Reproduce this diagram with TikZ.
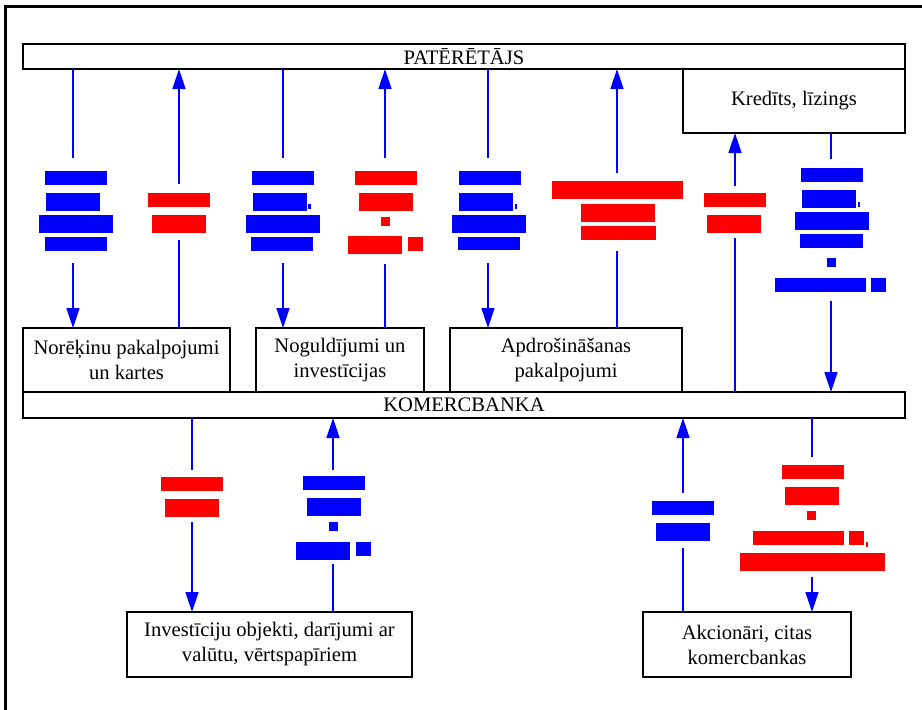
\documentclass[tikz,border=0pt]{standalone}
\usepackage{fontspec}
\setmainfont{Liberation Serif}
\newfontfamily\boxfont{Liberation Serif}
\usetikzlibrary{arrows.meta}
\definecolor{flowblue}{RGB}{0,0,255}
\definecolor{markblue}{RGB}{0,0,255}
\definecolor{markred}{RGB}{255,0,0}
\begin{document}
\begin{tikzpicture}[x=1pt,y=-1pt,
  box/.style={draw=black,line width=1.3pt,fill=white,inner sep=0pt,outer sep=0pt,
    align=center,font=\boxfont\fontsize{20.6}{25}\selectfont},
  gap/.style={inner sep=0pt,outer sep=0pt,minimum width=2pt},
  flow/.style={draw=flowblue,line width=1.5pt},
  tip/.style={flow,-{Triangle[length=20pt,width=13pt]}},
  bmark/.style={fill=markblue},
  rmark/.style={fill=markred}]
\useasboundingbox (0,0) rectangle (922,710);
% outer frame
\draw[line width=2.2pt] (5.5,710) -- (5.5,6.5) -- (922,6.5);

% boxes
\node[box,minimum width=882pt,minimum height=25pt] (pat) at (464,56.5) {PATĒRĒTĀJS};
\node[box,minimum width=222pt,minimum height=64pt] (kred) at (794,101) {Kredīts, līzings};
\node[box,minimum width=207pt,minimum height=64pt] (nor) at (126.5,360) {Norēķinu pakalpojumi\\un kartes};
\node[box,minimum width=168pt,minimum height=64pt] (nog) at (340,360) {Noguldījumi un\\investīcijas};
\node[box,minimum width=232pt,minimum height=64pt] (apd) at (566,360) {Apdrošināšanas\\pakalpojumi};
\node[box,minimum width=882pt,minimum height=26pt] (kom) at (464,405) {KOMERCBANKA};
\node[box,minimum width=285pt,minimum height=65pt] (inv) at (269.5,644.5) {Investīciju objekti, darījumi ar\\valūtu, vērtspapīriem};
\node[box,minimum width=208pt,minimum height=65pt] (akc) at (747,644.5) {Akcionāri, citas\\komercbankas};

% label slots that interrupt the flows
\node[gap,minimum height=105pt] (g1) at (73,210.5) {};
\node[gap,minimum height=56pt] (g2) at (179,212) {};
\node[gap,minimum height=105pt] (g3) at (283,210.5) {};
\node[gap,minimum height=106pt] (g4) at (385,211) {};
\node[gap,minimum height=105pt] (g5) at (488,210.5) {};
\node[gap,minimum height=78pt] (g6) at (617,212) {};
\node[gap,minimum height=52pt] (g7) at (735,212) {};
\node[gap,minimum height=142pt] (g8) at (831,230) {};
\node[gap,minimum height=52pt] (g9) at (192,496) {};
\node[gap,minimum height=94pt] (g10) at (333,517) {};
\node[gap,minimum height=55pt] (g11) at (683,520.5) {};
\node[gap,minimum height=120pt] (g12) at (812,517) {};

% consumer <-> services
\draw[flow] (pat.south -| g1) -- (g1.north);
\draw[tip] (g1.south) -- (g1.south |- nor.north);
\draw[flow] (nor.north -| g2) -- (g2.south);
\draw[tip] (g2.north) -- (g2.north |- pat.south);
\draw[flow] (pat.south -| g3) -- (g3.north);
\draw[tip] (g3.south) -- (g3.south |- nog.north);
\draw[flow] (nog.north -| g4) -- (g4.south);
\draw[tip] (g4.north) -- (g4.north |- pat.south);
\draw[flow] (pat.south -| g5) -- (g5.north);
\draw[tip] (g5.south) -- (g5.south |- apd.north);
\draw[flow] (apd.north -| g6) -- (g6.south);
\draw[tip] (g6.north) -- (g6.north |- pat.south);
% credit <-> bank
\draw[flow] (kom.north -| g7) -- (g7.south);
\draw[tip] (g7.north) -- (g7.north |- kred.south);
\draw[flow] (kred.south -| g8) -- (g8.north);
\draw[tip] (g8.south) -- (g8.south |- kom.north);
% bank <-> markets
\draw[flow] (kom.south -| g9) -- (g9.north);
\draw[tip] (g9.south) -- (g9.south |- inv.north);
\draw[flow] (inv.north -| g10) -- (g10.south);
\draw[tip] (g10.north) -- (g10.north |- kom.south);
\draw[flow] (akc.north -| g11) -- (g11.south);
\draw[tip] (g11.north) -- (g11.north |- kom.south);
\draw[flow] (kom.south -| g12) -- (g12.north);
\draw[tip] (g12.south) -- (g12.south |- akc.north);

% highlighted labels
% g1
\fill[bmark] (45,171) rectangle (107,185);
\fill[bmark] (46,193) rectangle (100,211);
\fill[bmark] (39,215) rectangle (113,233);
\fill[bmark] (45,237) rectangle (107,251);
% g2
\fill[rmark] (148,193) rectangle (210,207);
\fill[rmark] (152,215) rectangle (206,233);
% g3
\fill[bmark] (252,171) rectangle (314,185);
\fill[bmark] (253,193) rectangle (307,211);
\fill[bmark] (308,204) rectangle (311,209);
\fill[bmark] (246,215) rectangle (320,233);
\fill[bmark] (251,237) rectangle (313,251);
% g4
\fill[rmark] (355,171) rectangle (417,185);
\fill[rmark] (359,193) rectangle (413,211);
\fill[rmark] (381,217) rectangle (390,226);
\fill[rmark] (348,236) rectangle (402,254);
\fill[rmark] (408,237) rectangle (423,251);
% g5
\fill[bmark] (459,171) rectangle (521,185);
\fill[bmark] (459,193) rectangle (513,211);
\fill[bmark] (515,204) rectangle (517,209);
\fill[bmark] (452,215) rectangle (526,233);
\fill[bmark] (458,237) rectangle (520,250);
% g6
\fill[rmark] (552,181) rectangle (683,199);
\fill[rmark] (581,204) rectangle (655,222);
\fill[rmark] (581,226) rectangle (656,240);
% g7
\fill[rmark] (704,193) rectangle (766,207);
\fill[rmark] (707,215) rectangle (761,233);
% g8
\fill[bmark] (801,168) rectangle (863,182);
\fill[bmark] (802,190) rectangle (856,208);
\fill[bmark] (858,202) rectangle (860,207);
\fill[bmark] (795,212) rectangle (869,230);
\fill[bmark] (800,234) rectangle (863,248);
\fill[bmark] (827,258) rectangle (836,267);
\fill[bmark] (775,278) rectangle (866,292);
\fill[bmark] (871,278) rectangle (886,292);
% g9
\fill[rmark] (161,477) rectangle (223,491);
\fill[rmark] (165,499) rectangle (219,517);
% g10
\fill[bmark] (303,476) rectangle (365,490);
\fill[bmark] (307,498) rectangle (361,516);
\fill[bmark] (329,522) rectangle (338,531);
\fill[bmark] (296,542) rectangle (350,560);
\fill[bmark] (356,542) rectangle (371,556);
% g11
\fill[bmark] (652,501) rectangle (714,515);
\fill[bmark] (656,523) rectangle (710,541);
% g12
\fill[rmark] (782,465) rectangle (844,479);
\fill[rmark] (785,487) rectangle (839,505);
\fill[rmark] (807,511) rectangle (816,520);
\fill[rmark] (753,531) rectangle (844,545);
\fill[rmark] (849,531) rectangle (864,545);
\fill[rmark] (866,542) rectangle (868,547);
\fill[rmark] (740,553) rectangle (885,571);
\end{tikzpicture}
\end{document}
